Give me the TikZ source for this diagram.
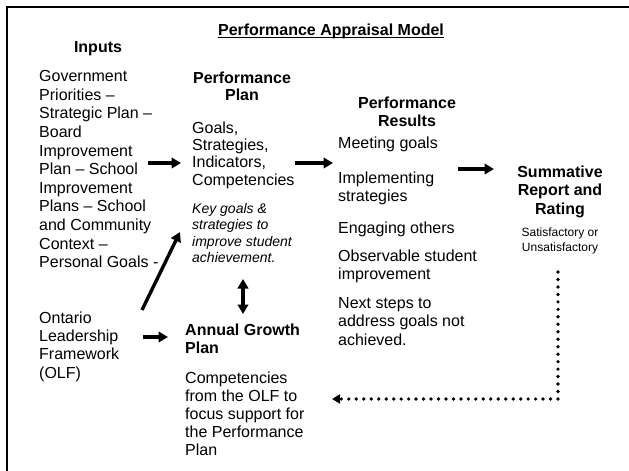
\documentclass[tikz,border=0pt]{standalone}
\usepackage{fontspec}
\setmainfont{Liberation Sans}
\usetikzlibrary{arrows.meta}

\tikzset{
  txt/.style={inner sep=0pt, anchor=north west, align=left, font=\fontsize{16}{18.5}\selectfont},
  hd/.style={inner sep=0pt, anchor=north, align=center, font=\fontsize{16}{18.5}\selectfont\bfseries},
  arr/.style={line width=3.4pt, -{Triangle[length=9.5pt,width=10.5pt]}},
  dots/.style={line width=3.7pt, line cap=round, dash pattern=on 0pt off 7.47pt, -{Triangle[length=8pt,width=9pt]}}
}

\begin{document}
\begin{tikzpicture}[x=1pt,y=-1pt]
      \useasboundingbox (0,0) rectangle (629,471);

      % Frame
      \draw[line width=2.5pt] (640,7) -- (7,7) -- (7,480);

      % Title
      \node[inner sep=0pt, anchor=base, font=\fontsize{16}{18.5}\selectfont\bfseries] (title) at (331,35) {Performance Appraisal Model};
      \draw[line width=1.2pt] ([yshift=-2.6pt]title.base west) -- ([yshift=-2.6pt]title.base east);

      %%%%%%%%%%%%%%%%%%%%%%%%%%

      % Inputs
      \node[hd, anchor=base] (inputs) at (98,52) {Inputs};
      \node[txt, font=\fontsize{16}{18.6}\selectfont] (inputlist) at (39,70.4)
        {Government\\Priorities --\\Strategic Plan --\\Board\\Improvement\\Plan -- School\\Improvement\\Plans -- School\\and Community\\Context --\\Personal Goals -};
      \node[txt, font=\fontsize{16}{18.3}\selectfont] (olf) at (39,311.4)
        {Ontario\\Leadership\\Framework\\(OLF)};

      %%%%%%%%%%%%%%%%%%%%%%%%%%

      % Performance Plan
      \node[hd, font=\fontsize{16}{17.8}\selectfont\bfseries] (planhead) at (242,71.4) {Performance\\Plan};
      \node[txt, font=\fontsize{16}{17.4}\selectfont] (planlist) at (192,121.4)
        {Goals,\\Strategies,\\Indicators,\\Competencies};
      \node[txt, font=\fontsize{14}{16.5}\selectfont\itshape] (plannote) at (192,202.8)
        {Key goals \&\\strategies to\\improve student\\achievement.};

      % Annual Growth Plan
      \node[txt, font=\fontsize{16}{18}\selectfont\bfseries] (growthhead) at (185,323.4) {Annual Growth\\Plan};
      \node[txt, font=\fontsize{16}{18}\selectfont] (growthlist) at (185,371.9)
        {Competencies\\from the OLF to\\focus support for\\the Performance\\Plan};

      %%%%%%%%%%%%%%%%%%%%%%%%%%

      % Performance Results
      \node[hd, font=\fontsize{16}{18}\selectfont\bfseries] (resultshead) at (407,96.9) {Performance\\Results};
      \node[txt] (resultslist) at (338,136.4)
        {Meeting goals\\[16.5pt]Implementing\\strategies\\[13pt]Engaging others\\[9.5pt]Observable student\\improvement\\[10pt]Next steps to\\address goals not\\achieved.};

      % Summative
      \node[hd] (summhead) at (560,165.4) {Summative\\Report and\\Rating};
      \node[hd, font=\fontsize{12}{15}\selectfont] (rating) at (560,227.3) {Satisfactory or\\Unsatisfactory};

      %%%%%%%%%%%%%%%%%%%%%%%%%%

      % Arrow ends
      \coordinate (inputs-out) at (148,163);
      \coordinate (plan-in) at (181,163);
      \coordinate (plan-out) at (295,163);
      \coordinate (results-in) at (333,163);
      \coordinate (results-out) at (458,169);
      \coordinate (summ-in) at (494,169);
      \coordinate (olf-up) at (142,310);
      \coordinate (plan-low) at (180,232);
      \coordinate (olf-out) at (143,337);
      \coordinate (growth-in) at (168,337);
      \coordinate (plan-down) at (243,279);
      \coordinate (growth-up) at (243,314);
      \coordinate (summ-down) at (558,272);
      \coordinate (turn) at (558,399);
      \coordinate (growth-back) at (332,399);

      % Lines
      \draw[arr] (inputs-out) -- (plan-in);
      \draw[arr] (plan-out) -- (results-in);
      \draw[arr] (results-out) -- (summ-in);
      \draw[arr] (olf-up) -- (plan-low);
      \draw[arr] (olf-out) -- (growth-in);
      \draw[arr, {Triangle[length=9.5pt,width=10.5pt]}-{Triangle[length=9.5pt,width=10.5pt]}] (plan-down) -- (growth-up);
      \draw[dots] (summ-down) -- (turn) -- (growth-back);
\end{tikzpicture}
\end{document}
